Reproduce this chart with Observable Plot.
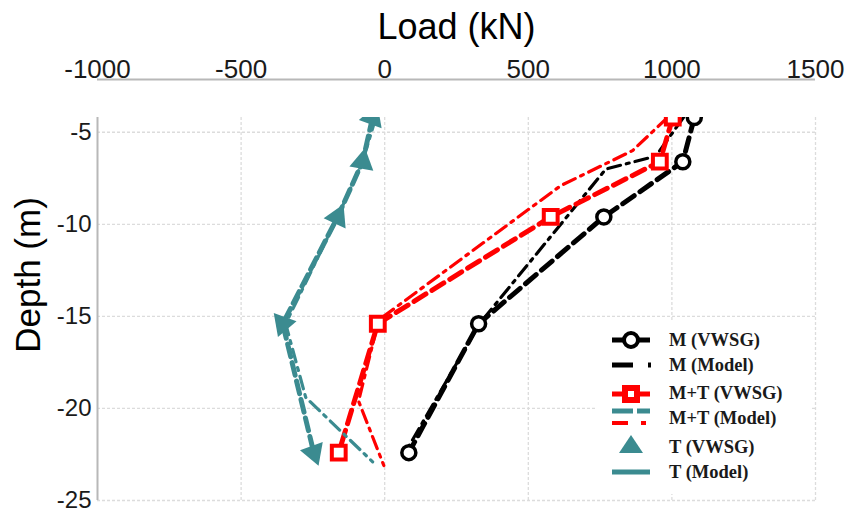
<!DOCTYPE html>
<html><head><meta charset="utf-8">
<script src="https://cdn.jsdelivr.net/npm/d3@7"></script>
<script src="https://cdn.jsdelivr.net/npm/@observablehq/plot@0.6"></script>
<style>
body{margin:0;background:#fff;}
#wrap{position:relative;width:845px;height:515px;overflow:hidden;background:#fff;}
#legend{position:absolute;left:0;top:0;}
</style></head><body>
<div id="wrap"><div id="chart"></div><svg id="legend" width="845" height="515"></svg></div>
<script>
// ---- data ----
const depthVWSG = [-4.2, -6.6, -9.6, -15.4, -22.4];
const loadM_VWSG = [1078, 1038, 763, 327, 84];
const loadMT_VWSG = [1003, 958, 578, -24, -160];
const loadT_VWSG = [-42, -77, -164, -355, -247];
const triRotate = [20, 10, 25, -40, -80];

const depthM_Model = [-4.2, -6.3, -7.0, -15.4, -22.3];
const loadM_Model = [1040, 944, 770, 330, 75];
const depthMT_Model = [-4.2, -6.0, -7.9, -15.2, -19.6, -23.1];
const loadMT_Model = [985, 863, 613, -21, -91, -3];
const depthT_Model = [-4.2, -6.6, -9.6, -15.4, -19.4, -22.9];
const loadT_Model = [-31, -77, -164, -345, -275, -42];

const xTicks = [-1000, -500, 0, 500, 1000, 1500];
const yTicks = [-5, -10, -15, -20, -25];
const legendLabels = ["M (VWSG)", "M (Model)", "M+T (VWSG)", "M+T (Model)", "T (VWSG)", "T (Model)"];
const titleX = "Load (kN)";
const titleY = "Depth (m)";

// ---- tables ----
const zip = (xs, ys, extra = {}) => xs.map((x, i) => {
  const o = {load: x, depth: ys[i]};
  for (const k in extra) o[k] = extra[k][i];
  return o;
});
const M_vwsg = zip(loadM_VWSG, depthVWSG);
const MT_vwsg = zip(loadMT_VWSG, depthVWSG);
const T_vwsg = zip(loadT_VWSG, depthVWSG, {rot: triRotate});
const M_model = zip(loadM_Model, depthM_Model);
const MT_model = zip(loadMT_Model, depthMT_Model);
const T_model = zip(loadT_Model, depthT_Model);

const BLACK = "#000", RED = "#ff0000", TEAL = "#3b8b90";
const THICK = "14,7", DASHDOT = "13,6,3,6";
const yTop = -4.2;
const fmt = d => String(d);

const plot = Plot.plot({
  width: 845, height: 515,
  marginTop: 117, marginLeft: 97, marginRight: 30, marginBottom: 15,
  x: {domain: [-1000, 1500]},
  y: {domain: [-25, yTop]},
  style: {fontFamily: "'Liberation Sans', Arial, sans-serif", color: "#1a1a1a", background: "#fff", overflow: "visible"},
  marks: [
    Plot.gridX(xTicks.slice(1), {stroke: "#dcdcdc", strokeOpacity: 1, strokeDasharray: "3,2", strokeWidth: 1.3}),
    Plot.gridY(yTicks, {stroke: "#dcdcdc", strokeOpacity: 1, strokeDasharray: "3,2", strokeWidth: 1.3}),
    Plot.ruleX([-1000], {stroke: "#b8b8b8", strokeWidth: 2}),
    Plot.ruleY([yTop], {dy: -38, stroke: "#b8b8b8", strokeWidth: 2}),
    Plot.axisX(xTicks, {anchor: "top", tickSize: 0, tickPadding: 2, fontSize: 26, dy: -38, label: null, tickFormat: fmt}),
    Plot.axisY(yTicks, {anchor: "left", tickSize: 0, tickPadding: 6, fontSize: 24, label: null, tickFormat: fmt}),
    Plot.text([titleX], {text: d => d, frameAnchor: "top", dy: -90, lineAnchor: "middle", textAnchor: "middle", fontSize: 36, fill: "#000"}),
    Plot.text([titleY], {text: d => d, frameAnchor: "left", dx: -69, dy: -34, rotate: -90, lineAnchor: "middle", textAnchor: "middle", fontSize: 35, fill: "#000"}),

    Plot.line(M_vwsg, {x: "load", y: "depth", stroke: BLACK, strokeWidth: 5, strokeDasharray: THICK, clip: true}),
    Plot.line(M_model, {x: "load", y: "depth", stroke: BLACK, strokeWidth: 3.2, strokeDasharray: DASHDOT, clip: true}),
    Plot.line(MT_vwsg, {x: "load", y: "depth", stroke: RED, strokeWidth: 5, strokeDasharray: THICK, clip: true}),
    Plot.line(MT_model, {x: "load", y: "depth", stroke: RED, strokeWidth: 3.2, strokeDasharray: DASHDOT, clip: true}),
    Plot.line(T_vwsg, {x: "load", y: "depth", stroke: TEAL, strokeWidth: 5, strokeDasharray: "13,6", clip: true}),
    Plot.line(T_model, {x: "load", y: "depth", stroke: TEAL, strokeWidth: 3.2, strokeDasharray: DASHDOT, clip: true}),

    Plot.dot(M_vwsg, {x: "load", y: "depth", r: 7, stroke: BLACK, strokeWidth: 3.5, fill: "white", clip: true}),
    Plot.dot(MT_vwsg, {x: "load", y: "depth", symbol: "square", r: 7.8, stroke: RED, strokeWidth: 4, fill: "white", clip: true}),
    Plot.dot(T_vwsg, {x: "load", y: "depth", symbol: "triangle", r: 9, fill: TEAL, stroke: "none", rotate: "rot", clip: true})
  ]
});
document.getElementById("chart").appendChild(plot);

// ---- legend ----
const lg = d3.select("#legend");
lg.append("rect").attr("x", 597).attr("y", 322).attr("width", 215).attr("height", 172).attr("fill", "#fff");
const rowsY = [340, 365, 393, 418, 447, 472];
const seg = (x1, x2, y, c, w) => lg.append("line").attr("x1", x1).attr("x2", x2).attr("y1", y).attr("y2", y).attr("stroke", c).attr("stroke-width", w);
seg(612, 650, 340, BLACK, 5);
lg.append("circle").attr("cx", 631).attr("cy", 340).attr("r", 7).attr("fill", "#fff").attr("stroke", BLACK).attr("stroke-width", 4);
seg(612, 633, 365, BLACK, 5); seg(648, 651, 365, BLACK, 5);
seg(612, 650, 394, RED, 5);
lg.append("rect").attr("x", 625).attr("y", 388).attr("width", 12).attr("height", 12).attr("fill", "#fff").attr("stroke", RED).attr("stroke-width", 6);
seg(612, 633, 411, TEAL, 5); seg(637, 650, 411, TEAL, 5);
seg(612, 628, 423, RED, 4); seg(641, 646, 423, RED, 4);
lg.append("polygon").attr("points", "619,453 643,453 631,435").attr("fill", TEAL);
seg(612, 650, 472, TEAL, 5);
legendLabels.forEach((t, i) => {
  lg.append("text").attr("x", 669).attr("y", rowsY[i]).attr("dominant-baseline", "central")
    .attr("font-family", "'Liberation Serif', 'Times New Roman', serif").attr("font-weight", "bold")
    .attr("font-size", 18.5).attr("fill", "#1a1a1a").text(t);
});
</script>
</body></html>
